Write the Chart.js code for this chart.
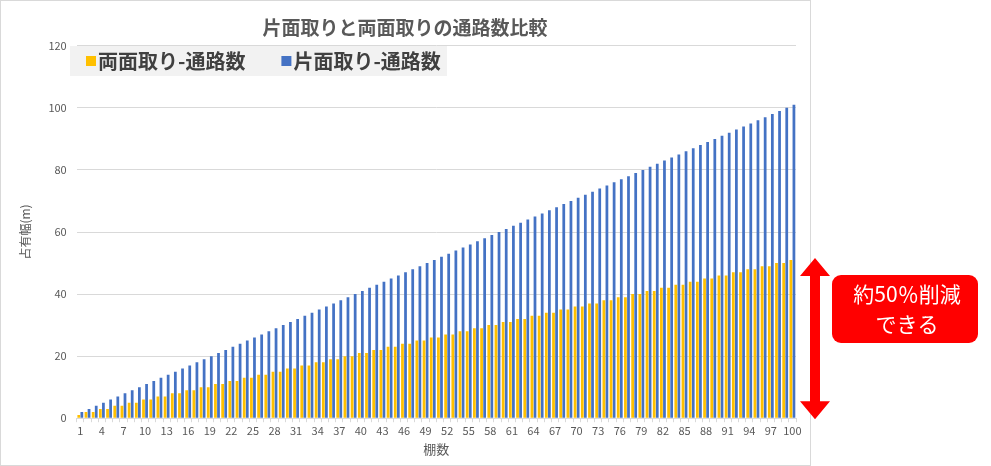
<!DOCTYPE html>
<html>
<head>
<meta charset="utf-8">
<script src="https://cdn.jsdelivr.net/npm/chart.js@4"></script>
<style>
  html, body { margin: 0; padding: 0; background: #fff; }
  #wrap { position: relative; width: 991px; height: 466px; }
</style>
</head>
<body>
<div id="wrap"><canvas id="chart" width="991" height="466"></canvas></div>
<script>
// 棚数
const shelves = [1,2,3,4,5,6,7,8,9,10,11,12,13,14,15,16,17,18,19,20,
  21,22,23,24,25,26,27,28,29,30,31,32,33,34,35,36,37,38,39,40,
  41,42,43,44,45,46,47,48,49,50,51,52,53,54,55,56,57,58,59,60,
  61,62,63,64,65,66,67,68,69,70,71,72,73,74,75,76,77,78,79,80,
  81,82,83,84,85,86,87,88,89,90,91,92,93,94,95,96,97,98,99,100];

// 両面取り-通路数
const doubleSided = [1,2,2,3,3,4,4,5,5,6,6,7,7,8,8,9,9,10,10,11,
  11,12,12,13,13,14,14,15,15,16,16,17,17,18,18,19,19,20,20,21,
  21,22,22,23,23,24,24,25,25,26,26,27,27,28,28,29,29,30,30,31,
  31,32,32,33,33,34,34,35,35,36,36,37,37,38,38,39,39,40,40,41,
  41,42,42,43,43,44,44,45,45,46,46,47,47,48,48,49,49,50,50,51];

// 片面取り-通路数
const singleSided = [2,3,4,5,6,7,8,9,10,11,12,13,14,15,16,17,18,19,20,21,
  22,23,24,25,26,27,28,29,30,31,32,33,34,35,36,37,38,39,40,41,
  42,43,44,45,46,47,48,49,50,51,52,53,54,55,56,57,58,59,60,61,
  62,63,64,65,66,67,68,69,70,71,72,73,74,75,76,77,78,79,80,81,
  82,83,84,85,86,87,88,89,90,91,92,93,94,95,96,97,98,99,100,101];

const seriesNames = ['両面取り-通路数', '片面取り-通路数'];
const yTicks = [0, 20, 40, 60, 80, 100, 120];
const note = ['約50％削減', 'できる'];

const FONT = "'Noto Sans CJK JP', 'Noto Sans', sans-serif";
const GREY = '#595959';

// frame, legend box, arrow and callout
const extras = {
  id: 'extras',
  beforeDraw(chart) {
    const c = chart.ctx;
    c.save();
    c.fillStyle = '#fff';
    c.fillRect(0, 0, chart.width, chart.height);
    c.strokeStyle = '#d9d9d9';
    c.lineWidth = 1;
    c.strokeRect(0.5, 0.5, 810, 465);
    c.restore();
  },
  afterDraw(chart) {
    const c = chart.ctx;
    const ys = chart.scales.y;
    c.save();

    // legend
    c.fillStyle = '#f2f2f2';
    c.fillRect(70, 46, 377, 30);
    c.font = 'bold 20px ' + FONT;
    c.textBaseline = 'middle';
    let x = 86;
    chart.data.datasets.forEach(ds => {
      c.fillStyle = ds.backgroundColor;
      c.fillRect(x, 56, 10, 10);
      c.fillStyle = '#404040';
      c.fillText(ds.label, x + 12, 61);
      x += c.measureText(ds.label).width + 12 + 36;
    });

    // double arrow from 0 to about 50
    const ax = 815;
    const yTop = ys.getPixelForValue(51) - 2;
    const yBot = ys.getPixelForValue(0) + 1;
    c.fillStyle = '#ff0000';
    c.beginPath();
    c.moveTo(ax, yTop);
    c.lineTo(ax + 15, yTop + 18);
    c.lineTo(ax + 5, yTop + 18);
    c.lineTo(ax + 5, yBot - 18);
    c.lineTo(ax + 15, yBot - 18);
    c.lineTo(ax, yBot);
    c.lineTo(ax - 15, yBot - 18);
    c.lineTo(ax - 5, yBot - 18);
    c.lineTo(ax - 5, yTop + 18);
    c.lineTo(ax - 15, yTop + 18);
    c.closePath();
    c.fill();

    // callout box
    c.beginPath();
    c.roundRect(832, 275, 146, 68, 9);
    c.fill();
    c.fillStyle = '#fff';
    c.font = '21px ' + FONT;
    c.textAlign = 'center';
    c.fillText(note[0], 907, 294);
    c.fillText(note[1], 907, 324);
    c.restore();
  }
};

new Chart(document.getElementById('chart'), {
  type: 'bar',
  data: {
    labels: shelves,
    datasets: [
      { label: seriesNames[0], data: doubleSided, backgroundColor: '#ffc000',
        categoryPercentage: 0.85, barPercentage: 0.9 },
      { label: seriesNames[1], data: singleSided, backgroundColor: '#4472c4',
        categoryPercentage: 0.85, barPercentage: 0.9 }
    ]
  },
  options: {
    responsive: false,
    animation: false,
    layout: { padding: { left: 14, right: 195, top: 0, bottom: 9 } },
    plugins: {
      legend: { display: false },
      tooltip: { enabled: false },
      title: {
        display: true,
        text: '片面取りと両面取りの通路数比較',
        color: GREY,
        font: { family: FONT, size: 19, weight: 'bold' },
        padding: { top: 16, bottom: 7 }
      }
    },
    scales: {
      x: {
        grid: { display: true, drawOnChartArea: false, drawTicks: true, tickLength: 4, color: '#d9d9d9' },
        border: { color: '#d9d9d9' },
        ticks: {
          autoSkip: false, maxRotation: 0, color: GREY, padding: 2,
          font: { family: FONT, size: 11 },
          callback: (v, i) => (i % 3 === 0 ? shelves[i] : '')
        },
        title: { display: true, text: '棚数', color: GREY, font: { family: FONT, size: 13 }, padding: { top: 2, bottom: 0 } }
      },
      y: {
        min: 0, max: 120,
        afterBuildTicks: s => { s.ticks = yTicks.map(v => ({ value: v })); },
        grid: { color: '#d9d9d9', drawTicks: false },
        border: { display: false },
        ticks: { color: GREY, padding: 10, font: { family: FONT, size: 11 } },
        title: { display: true, text: '占有幅(m)', color: GREY, font: { family: FONT, size: 12 }, padding: { bottom: 6 } }
      }
    }
  },
  plugins: [extras]
});
</script>
</body>
</html>
